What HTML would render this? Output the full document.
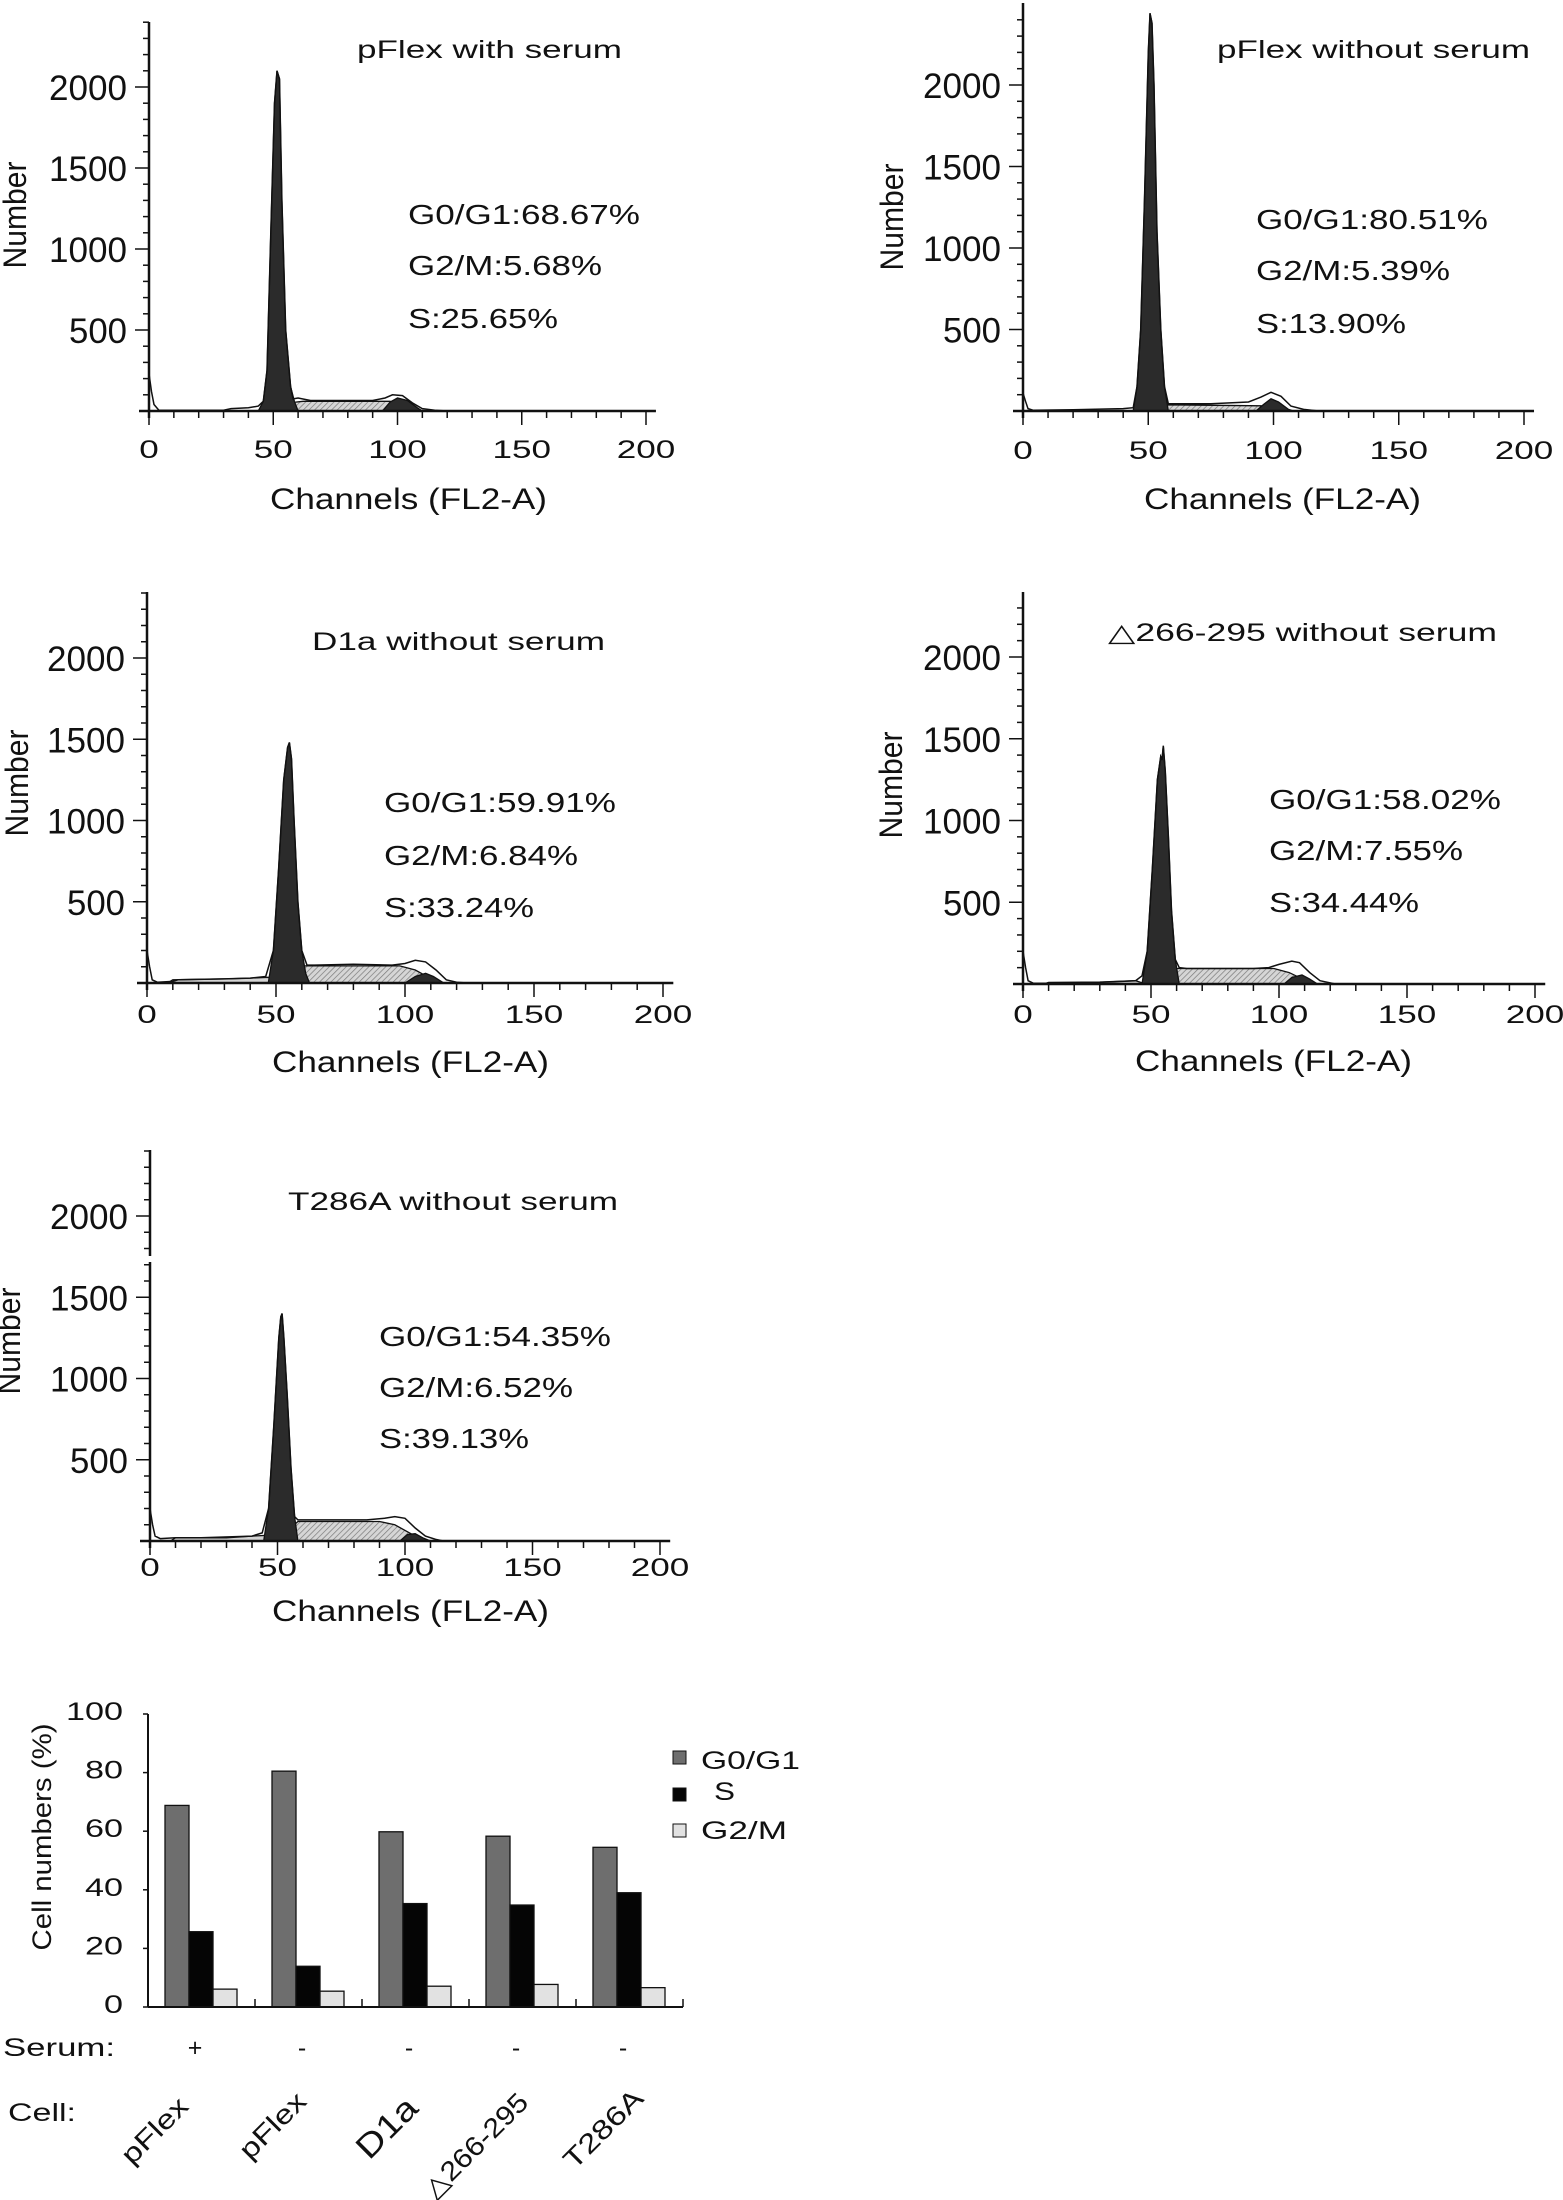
<!DOCTYPE html>
<html><head><meta charset="utf-8"><style>
html,body{margin:0;padding:0;background:#fff;}
svg{display:block;font-family:"Liberation Sans",Arial,sans-serif;}
</style></head><body>
<svg id="fig" width="1563" height="2200" viewBox="0 0 1563 2200" xmlns="http://www.w3.org/2000/svg">
<defs>
<pattern id="hatch" width="4" height="4" patternUnits="userSpaceOnUse" patternTransform="rotate(45)">
<rect width="4" height="4" fill="#d6d6d6"/><line x1="0" y1="0" x2="0" y2="4" stroke="#7a7a7a" stroke-width="1.4"/>
</pattern>
</defs>
</svg>
<script>
// ---------- histogram data (channel, count) ----------
const p1G1=[[44,0],[46,60],[47.5,250],[49,1100],[50.5,1900],[51.5,2100],[52.5,2050],[53.5,1300],[55,500],[57,150],[58.5,60],[60,0]];
const p1S=[[51,0],[55,25],[59,55],[62,60],[97,60],[103,40],[108,0]];
const p1G2=[[94,0],[97,55],[100,80],[104,65],[108,20],[110,0]];
const p1Total=[[0,230],[1,120],[2,40],[4,5],[30,5],[33,15],[40,20],[44,30],[46,60],[47.5,250],[49,1100],[50.5,1900],[51.5,2100],[52.5,2050],[53.5,1300],[55,500],[57,150],[58,75],[60,80],[65,65],[90,65],[95,80],[98,100],[102,95],[106,50],[110,15],[115,5],[120,0]];

const p2G1=[[44,0],[45.5,150],[47,500],[48.5,1300],[50,2200],[50.7,2440],[51.5,2380],[52.3,2000],[53.5,1100],[55,500],[56.5,150],[58,0]];
const p2S=[[48,0],[52,20],[58,38],[95,32],[100,15],[104,0]];
const p2G2=[[93,0],[96,40],[99,75],[102,55],[106,10],[108,0]];
const p2Total=[[0,110],[1,60],[2,15],[4,5],[20,8],[40,15],[44,20],[45.5,150],[47,500],[48.5,1300],[50,2200],[50.7,2440],[51.5,2380],[52.3,2000],[53.5,1100],[55,500],[56.5,150],[58,45],[75,45],[90,55],[95,85],[99,115],[103,90],[107,30],[112,10],[118,0]];

const p3G1=[[47,0],[49,200],[51,700],[53,1250],[54.5,1450],[55.2,1480],[56,1380],[57,1000],[58.5,500],[60,200],[61.5,60],[63,0]];
const p3S=[[50,0],[54,40],[60,105],[98,105],[104,80],[112,10],[114,0]];
const p3G2=[[100,0],[104,40],[108,60],[111,40],[115,0]];
const p3Debris=[[8,0],[10,20],[30,25],[40,30],[47,35],[50,0]];
const p3Total=[[0,200],[1,100],[2,20],[4,5],[10,10],[12,20],[30,25],[40,30],[46,40],[49,200],[51,700],[53,1250],[54.5,1450],[55.2,1480],[56,1380],[57,1000],[58.5,500],[60,200],[62,110],[65,110],[80,115],[95,110],[100,120],[104,140],[108,130],[112,80],[116,20],[120,5],[124,0]];

const p4G1=[[46.5,0],[48.5,200],[50.5,700],[52.5,1250],[53.8,1390],[54.3,1370],[54.8,1457],[55.6,1300],[56.8,900],[58,450],[59.5,150],[61,0]];
const p4S=[[50,0],[55,50],[60,95],[98,95],[104,70],[112,10],[114,0]];
const p4G2=[[102,0],[105,40],[109,55],[112,30],[115,0]];
const p4Debris=[[8,0],[10,10],[30,12],[44,20],[48,0]];
const p4Total=[[0,200],[1,100],[2,20],[4,5],[15,5],[30,10],[44,20],[46.5,50],[48.5,200],[50.5,700],[52.5,1250],[53.8,1390],[54.3,1370],[54.8,1457],[55.6,1300],[56.8,900],[58,450],[59.5,150],[61,100],[64,95],[90,95],[96,100],[100,120],[105,140],[108,130],[112,70],[116,20],[122,0]];

const p5G1=[[44.6,0],[46.5,200],[48.5,700],[50.5,1250],[51.3,1380],[51.8,1400],[52.5,1250],[53.8,900],[55.3,450],[56.7,150],[58,0]];
const p5S=[[48,0],[53,50],[58,120],[90,120],[96,100],[104,30],[108,0]];
const p5G2=[[98,0],[101,40],[104,45],[107,20],[110,0]];
const p5Debris=[[8,0],[10,20],[30,20],[40,30],[46,35],[49,0]];
const p5Total=[[0,200],[1,100],[2,30],[4,15],[10,20],[20,20],[40,30],[44,50],[46.5,200],[48.5,700],[50.5,1250],[51.3,1380],[51.8,1400],[52.5,1250],[53.8,900],[55.3,450],[56.7,150],[58,130],[65,130],[85,130],[92,140],[96,150],[100,140],[104,80],[108,30],[112,10],[115,0]];

const panelTitles=['pFlex with serum','pFlex without serum','D1a without serum','\u25B3266-295 without serum','T286A without serum'];
const statG1=['68.67','80.51','59.91','58.02','54.35'];
const statG2=['5.68','5.39','6.84','7.55','6.52'];
const statS=['25.65','13.90','33.24','34.44','39.13'];
const yTickVals=[500,1000,1500,2000];
const xTickVals=[0,50,100,150,200];

// ---------- bar chart data ----------
const barCats=['pFlex','pFlex','D1a','\u25B3266-295','T286A'];
const barSerum=['+','-','-','-','-'];
const barG0=[68.8,80.5,59.8,58.3,54.5];
const barS=[25.7,13.9,35.3,34.8,39.0];
const barG2=[6.1,5.4,7.1,7.7,6.6];
const barTicks=[0,20,40,60,80,100];

const NS='http://www.w3.org/2000/svg';
const svg=document.getElementById('fig');
function el(tag,attrs,parent){const e=document.createElementNS(NS,tag);for(const k in attrs)e.setAttribute(k,attrs[k]);(parent||svg).appendChild(e);return e;}
function txt(str,x,y,size,len,anchor,parent,extra){
  const t=el('text',{x:x,y:y,'font-size':size,'text-anchor':anchor||'start',fill:'#111'},parent);
  if(len){t.setAttribute('textLength',len);t.setAttribute('lengthAdjust','spacingAndGlyphs');}
  if(extra)for(const k in extra)t.setAttribute(k,extra[k]);
  t.textContent=str;return t;
}

const layouts=[
 {ox:149,oy:411,sx:2.485,sy:0.162,top:22,tx:357,ty:58,tl:265,stx:408,sty:[224,275,328],xl:47,cx:270,cy:98,nx:26,ny:215},
 {ox:1023,oy:411,sx:2.505,sy:0.163,top:3,tx:1217,ty:58,tl:313,stx:1256,sty:[229,280,333],xl:48,cx:1144,cy:98,nx:903,ny:217},
 {ox:147,oy:983,sx:2.58,sy:0.1625,top:592,tx:312,ty:650,tl:293,stx:384,sty:[812,865,917],xl:40,cx:272,cy:89,nx:28,ny:783},
 {ox:1023,oy:984,sx:2.56,sy:0.1635,top:592,tx:1108,ty:641,tl:389,stx:1269,sty:[809,860,912],xl:39,cx:1135,cy:87,nx:902,ny:785},
 {ox:150,oy:1541,sx:2.55,sy:0.1625,top:1150,tx:288,ty:1210,tl:330,stx:379,sty:[1346,1397,1448],xl:35,cx:272,cy:80,nx:20,ny:1341}
];
const panelData=[
 {g1:p1G1,s:p1S,g2:p1G2,total:p1Total,debris:null},
 {g1:p2G1,s:p2S,g2:p2G2,total:p2Total,debris:null},
 {g1:p3G1,s:p3S,g2:p3G2,total:p3Total,debris:p3Debris},
 {g1:p4G1,s:p4S,g2:p4G2,total:p4Total,debris:p4Debris},
 {g1:p5G1,s:p5S,g2:p5G2,total:p5Total,debris:p5Debris}
];

function drawPanel(i){
  const L=layouts[i],D=panelData[i];
  const X=c=>L.ox+c*L.sx, Y=v=>L.oy-v*L.sy;
  const g=el('g',{});
  
  
  const area=(pts,fill,name)=>{
    let d='M'+X(pts[0][0])+','+L.oy;
    pts.forEach(p=>{d+=' L'+X(p[0]).toFixed(1)+','+Y(p[1]).toFixed(1);});
    d+=' L'+X(pts[pts.length-1][0])+','+L.oy+' Z';
    const a=el('path',{d:d,fill:fill,stroke:'#111','stroke-width':1.3},g);
    
    
  };
  if(D.debris)area(D.debris,'#d4d4d4','debris-area');
  area(D.s,'url(#hatch)','s-phase-area');
  area(D.g1,'#2b2b2b','g1-peak');
  area(D.g2,'#2b2b2b','g2-peak');
  const line=el('polyline',{points:D.total.map(p=>X(p[0]).toFixed(1)+','+Y(p[1]).toFixed(1)).join(' '),fill:'none',stroke:'#111','stroke-width':1.5},g);
  
  
  // axes
  const ya=el('line',{x1:L.ox,y1:L.top,x2:L.ox,y2:L.oy+7,stroke:'#111','stroke-width':2.5},g);
  
  
  if(i===4){el('rect',{x:L.ox-3,y:1256,width:6,height:6,fill:'#fff'},g);}
  const xa=el('line',{x1:L.ox-10,y1:L.oy,x2:X(204),y2:L.oy,stroke:'#111','stroke-width':2.5},g);
  
  
  for(let v=100;v<=2400;v+=100){
    const yy=Y(v); if(yy<L.top)break;
    el('line',{x1:L.ox-(v%500===0?14:6),y1:yy,x2:L.ox,y2:yy,stroke:'#111','stroke-width':1.5},g);
  }
  for(let c=0;c<=200;c+=10){
    el('line',{x1:X(c),y1:L.oy,x2:X(c),y2:L.oy+(c%50===0?14:7),stroke:'#111','stroke-width':1.5},g);
  }
  yTickVals.forEach(v=>{
    const t=txt(String(v),L.ox-22,Y(v)+13,35,v>=1000?78:58,'end',g);
    
    
  });
  xTickVals.forEach(c=>{
    const s=String(c);
    const t=txt(s,X(c),L.oy+L.xl,25,s.length*19.5,'middle',g);
    
    
  });
  const ct=txt('Channels (FL2-A)',L.cx,L.oy+L.cy,30,277,'start',g);
  
  
  const nt=txt('Number',0,0,32,107,'middle',g,{transform:'translate('+L.nx+','+L.ny+') rotate(-90)'});
  
  
  const tt=txt(panelTitles[i],L.tx,L.ty,25,L.tl,'start',g);
  
  
  const s1=txt('G0/G1:'+statG1[i]+'%',L.stx,L.sty[0],28,232,'start',g);
  
  
  const s2=txt('G2/M:'+statG2[i]+'%',L.stx,L.sty[1],28,194,'start',g);
  
  
  const s3=txt('S:'+statS[i]+'%',L.stx,L.sty[2],28,150,'start',g);
  
  
}
for(let i=0;i<5;i++)drawPanel(i);

// ---------- bar chart ----------
(function(){
  const ox=148, oy=2007, top=1714, right=683, catW=107;
  const Y=v=>oy-(v/100)*(oy-top);
  const g=el('g',{});
  
  
  const series=[[barG0,'#6e6e6e','bar-g0g1'],[barS,'#050505','bar-s'],[barG2,'#e2e2e2','bar-g2m']];
  barCats.forEach((c,ci)=>{
    series.forEach((s,si)=>{
      const x=ox+ci*catW+17+si*24;
      const r=el('rect',{x:x,y:Y(s[0][ci]),width:24,height:oy-Y(s[0][ci]),fill:s[1],stroke:'#111','stroke-width':1.3},g);
      
      
    });
  });
  const ya=el('line',{x1:ox,y1:top,x2:ox,y2:oy,stroke:'#111','stroke-width':2},g);
  
  
  const xa=el('line',{x1:ox,y1:oy,x2:right,y2:oy,stroke:'#111','stroke-width':2},g);
  
  
  for(let k=1;k<=5;k++)el('line',{x1:ox+k*catW,y1:oy,x2:ox+k*catW,y2:oy-8,stroke:'#111','stroke-width':1.5},g);
  barTicks.forEach(v=>{
    el('line',{x1:ox-5,y1:Y(v),x2:ox,y2:Y(v),stroke:'#111','stroke-width':1.5},g);
    const s=String(v);
    const t=txt(s,123,Y(v)+6,25,s.length*19,'end',g);
    
    
  });
  const yt=txt('Cell numbers (%)',0,0,27,227,'middle',g,{transform:'translate(51,1837) rotate(-90)'});
  
  
  // legend
  const leg=[['G0/G1','#6e6e6e',1751,1769,701,99],['S','#050505',1788,1800,714,21],['G2/M','#e2e2e2',1824,1839,701,86]];
  leg.forEach(l=>{
    const r=el('rect',{x:673,y:l[2],width:13,height:13,fill:l[1],stroke:'#111','stroke-width':1},g);
    
    
    const t=txt(l[0],l[4],l[3],25,l[5],'start',g);
    
    
  });
  const sl=txt('Serum:',3,2056,25,112,'start',g);
  
  
  const cl=txt('Cell:',8,2121,25,68,'start',g);
  
  
  const cellPos=[[190,2108,27,82],[308,2103,27,82],[420,2110,33,72],[530,2104,27,135],[645,2100,27,100]];
  barCats.forEach((c,ci)=>{
    const cx=ox+ci*catW+53;
    const s=txt(barSerum[ci],cx-6,2056,25,null,'middle',g);
    
    
    const p=cellPos[ci];
    const t=txt(c,0,0,p[2],p[3],'end',g,{transform:'translate('+p[0]+','+p[1]+') rotate(-45)'});
    
    
  });
})();
</script>
</body></html>
